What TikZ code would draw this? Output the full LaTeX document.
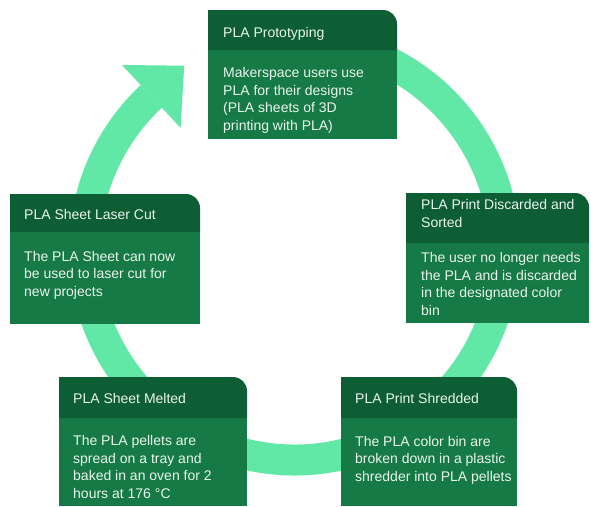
\documentclass[tikz,border=0pt]{standalone}
\usepackage{fontspec}
\setmainfont{Liberation Sans}
\usetikzlibrary{calc}

\definecolor{headgreen}{HTML}{0D5E34}
\definecolor{bodygreen}{HTML}{167A46}
\definecolor{ringgreen}{HTML}{62E8A6}
\definecolor{labelwhite}{HTML}{EAF4EC}

% card: #1 left, #2 top, #3 right, #4 bottom of header, #5 bottom
\newcommand\stagecard[5]{%
  \fill[bodypanel] (#1,#4) rectangle (#3,#5);
  \fill[headbar] (#1,#4) -- (#1,#2) -- (#3-14,#2)
    arc[start angle=90, end angle=0, radius=14pt] -- (#3,#4) -- cycle;
}

\begin{document}
\begin{tikzpicture}[x=1pt,y=-1pt,
  headbar/.style={fill=headgreen, draw=none},
  bodypanel/.style={fill=bodygreen, draw=none},
  % the base anchor of a multi-line node sits on its last line
  cardtext/.style={text=labelwhite, font=\fontsize{14}{17.5}\selectfont,
    align=left, anchor=base west, inner sep=0pt},
  cyclering/.style={draw=ringgreen, line width=31pt},
  ringhead/.style={fill=ringgreen, draw=none}]

\useasboundingbox[fill=white] (0,0) rectangle (591,506);

% circular flow ring, running clockwise, with its arrowhead at the upper left
\coordinate (hub) at (294.5,250);
\draw[cyclering] ($(hub)+(80:210pt)$)
  arc[start angle=80, end angle=-227, radius=210pt] coordinate (ringend);
\fill[ringhead] ($(ringend)+(133:43pt)$) -- ($(ringend)+(43:45pt)$)
  -- ($(ringend)+(-47:43pt)$) -- cycle;

% stage cards
\stagecard{208}{10}{397}{50}{139}
\stagecard{10}{194}{200}{232}{324}
\stagecard{406}{193}{589}{243}{323}
\stagecard{59}{377}{247}{418}{506}
\stagecard{341}{377}{517}{418}{506}

% top card
\node[cardtext] (protohead) at (223,37) {PLA Prototyping};
\node[cardtext] (protobody) at (223,130)
  {Makerspace users use\\PLA for their designs\\(PLA sheets of 3D\\printing with PLA)};

% right card
\node[cardtext] (sorthead) at (421,227) {PLA Print Discarded and\\Sorted};
\node[cardtext] (sortbody) at (421,315)
  {The user no longer needs\\the PLA and is discarded\\in the designated color\\bin};

% lower right card
\node[cardtext] (shredhead) at (355,403) {PLA Print Shredded};
\node[cardtext] (shredbody) at (355,481)
  {The PLA color bin are\\broken down in a plastic\\shredder into PLA pellets};

% lower left card
\node[cardtext] (melthead) at (73,403) {PLA Sheet Melted};
\node[cardtext] (meltbody) at (73,498)
  {The PLA pellets are\\spread on a tray and\\baked in an oven for 2\\hours at 176 °C};

% left card
\node[cardtext] (laserhead) at (24,219) {PLA Sheet Laser Cut};
\node[cardtext] (laserbody) at (24,296)
  {The PLA Sheet can now\\be used to laser cut for\\new projects};

\end{tikzpicture}
\end{document}
